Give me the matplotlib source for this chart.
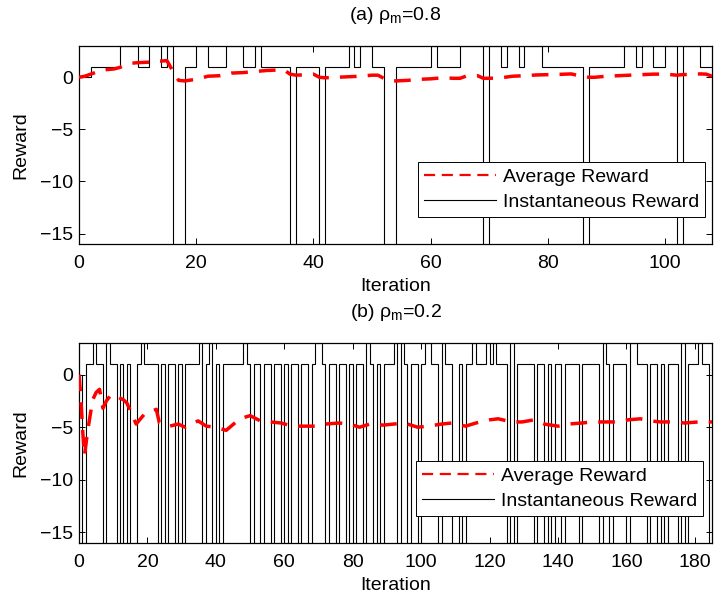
import matplotlib
matplotlib.use("Agg")
import matplotlib.pyplot as plt
from matplotlib.lines import Line2D
import numpy as np

plt.rcParams['font.family'] = ['Liberation Sans', 'DejaVu Sans']
plt.rcParams['mathtext.fontset'] = 'custom'
plt.rcParams['mathtext.rm'] = 'Liberation Sans'
plt.rcParams['mathtext.it'] = 'Liberation Sans'

# ---------------- Panel (a): rho_m = 0.8 ----------------
a_title = r"(a) $\mathrm{\rho_m}$=0.8"
a_steps = [0, 2, 7, 10, 12, 14, 15, 16, 18, 20, 22, 25, 28, 30, 31, 36, 37, 41, 42, 46,
           47, 48, 50, 52, 54, 60, 61, 65, 69, 70, 72, 73, 75, 76, 79, 86, 87, 93, 95,
           96, 98, 100, 102, 103, 106, 108]
a_inst = [0, 1, 3, 1, 3, 1, 3, -20, 1, 3, 1, 3, 1, 3, 1, -20, 1, -20, 1, 3,
          1, 3, 1, -20, 1, 3, 1, 3, -20, 3, 1, 3, 1, 3, 1, -20, 1, 3, 1,
          3, 1, 3, -20, 3, 1]
a_avg_x = [0, 1, 2, 4, 6, 7, 8, 9, 10, 12, 13, 14, 15, 16, 17, 18, 20, 22, 24, 26, 28, 30,
           32, 34, 35, 36, 37, 39, 40, 41, 42, 44, 46, 48, 50, 51, 52, 53, 54, 56, 58, 60,
           62, 64, 65, 66, 68, 69, 70, 72, 74, 76, 78, 80, 82, 84, 86, 87, 88, 90, 92, 94,
           96, 98, 100, 102, 103, 104, 106, 107, 108]
a_avg_y = [0.0, 0.1, 0.3, 0.7, 0.8, 0.95, 1.2, 1.35, 1.4, 1.45, 1.55, 1.55, 1.6, 0.6, -0.3,
           -0.35, -0.2, 0.1, 0.15, 0.4, 0.45, 0.55, 0.65, 0.7, 0.7, 0.3, 0.2, 0.25, 0.3, 0.0,
           -0.05, 0.0, 0.05, 0.1, 0.2, 0.2, -0.1, -0.35, -0.35, -0.3, -0.2, -0.15, -0.05, -0.1,
           -0.1, 0.1, 0.15, -0.1, -0.1, -0.05, 0.1, 0.15, 0.22, 0.25, 0.28, 0.32, 0.05, 0.0,
           0.0, 0.1, 0.15, 0.2, 0.25, 0.3, 0.3, 0.2, 0.25, 0.28, 0.32, 0.3, 0.1]

# ---------------- Panel (b): rho_m = 0.2 ----------------
b_title = r"(b) $\mathrm{\rho_m}$=0.2"
# one instantaneous reward per iteration (iterations 0..184)
b_inst = [0, -20, 1, 1, 3, 1, 1, -20, 3, 1,
          1, -20, 1, -20, 1, -20, -20, 1, 3, 1,
          1, 1, 1, -20, 1, -20, 1, 1, -20, 1,
          -20, 1, 1, 1, 1, 3, -20, 1, 3, -20,
          1, -20, 1, 1, 1, 1, 1, 1, 3, 1,
          -20, 1, 1, -20, 1, 1, -20, 1, 1, -20,
          1, -20, 1, 1, -20, 1, 1, -20, 1, 3,
          3, 1, -20, 1, 1, -20, 1, 1, -20, 1,
          -20, 1, 1, -20, 3, 1, -20, 1, -20, 1,
          1, 1, 3, -20, 3, 1, -20, 1, 1, -20,
          1, 3, 3, 1, 1, -20, 3, 1, 1, -20,
          -20, 1, -20, 1, 1, 3, 1, 1, 1, 3,
          1, 3, 1, 1, 1, -20, 3, -20, 1, 1,
          1, 1, 1, -20, 1, 1, -20, 1, -20, 1,
          1, -20, 1, 1, 1, 1, -20, 1, 1, 1,
          1, 1, -20, 3, 1, -20, 1, 1, 1, 1,
          -20, 3, 3, 1, 1, 1, -20, 1, 1, -20,
          1, -20, 1, 1, 1, -20, 3, -20, 1, 1,
          1, 3, 1, 1, -20]
b_avg_x = [0, 0.5, 1, 1.6, 2.6, 4, 5, 6, 7, 8, 9.4, 10.5, 13, 14, 16.7, 19, 22.6, 23.5, 26.5,
           29, 31, 34.8, 37.2, 40, 43, 47, 50, 53, 56, 59, 62.5, 66, 69, 72, 76, 79, 82, 85,
           89, 92, 95, 99, 102, 106, 109, 113, 116, 120, 122.5, 126.5, 129.5, 133, 136, 140,
           143, 147, 150, 154, 157, 160.5, 164, 167, 170, 174, 177, 181, 185]
b_avg_y = [0, -2, -5, -7.7, -5.2, -2.4, -1.7, -1.4, -3.2, -2.5, -1.9, -2.0, -2.4, -2.7, -4.7,
           -3.8, -3.3, -4.6, -4.9, -4.7, -5.0, -4.4, -4.9, -5.0, -5.3, -4.2, -3.9, -4.4, -4.5,
           -4.6, -4.9, -4.9, -4.9, -4.7, -4.6, -4.7, -5.0, -4.7, -4.8, -4.7, -4.6, -5.0, -4.9,
           -4.7, -4.6, -4.9, -4.6, -4.3, -4.2, -4.5, -4.5, -4.3, -4.7, -4.9, -4.7, -4.6, -4.5,
           -4.5, -4.5, -4.3, -4.2, -4.4, -4.5, -4.5, -4.6, -4.5, -4.5]

y_ticks = [0, -5, -10, -15]
a_xticks = [0, 20, 40, 60, 80, 100]
b_xticks = [0, 20, 40, 60, 80, 100, 120, 140, 160, 180]

FS = 14
fig = plt.figure(figsize=(7.17, 5.93), dpi=100)
axA = fig.add_axes([79/717, 1-244/593, 633/717, 198/593])
axB = fig.add_axes([79/717, 1-543/593, 633/717, 200/593])

def draw(ax, steps, inst, ax_x, ax_y, xmax, xticks, title, leg_anchor):
    ax.stairs(inst, steps, baseline=None, color='black', linewidth=0.8, zorder=2)
    ax.plot(ax_x, ax_y, color='red', linewidth=2.5, dashes=(4.8, 3.2), zorder=3)
    ax.set_xlim(0, xmax)
    ax.set_ylim(-16, 3)
    ax.set_yticks(y_ticks)
    ax.set_xticks(xticks)
    ax.tick_params(direction='in', top=True, right=True, labelsize=FS, length=4, width=0.7)
    ax.tick_params(axis='x', pad=8)
    ax.tick_params(axis='y', pad=4)
    for s in ax.spines.values():
        s.set_linewidth(0.9)
    ax.set_xlabel('Iteration', fontsize=FS, labelpad=4)
    ax.set_ylabel('Reward', fontsize=FS, labelpad=8)
    ax.set_title(title, fontsize=FS, pad=19)
    h_avg = Line2D([], [], color='red', linewidth=1.6, dashes=(5, 3))
    h_ins = Line2D([], [], color='black', linewidth=0.8)
    leg = ax.legend([h_avg, h_ins], ['Average Reward', 'Instantaneous Reward'],
                    loc='lower right', bbox_to_anchor=leg_anchor, borderaxespad=0,
                    fontsize=FS, handlelength=3.7, fancybox=False, framealpha=1,
                    edgecolor='black', borderpad=0.3, labelspacing=0.4,
                    handletextpad=0.35)
    leg.get_frame().set_linewidth(0.7)

draw(axA, a_steps, a_inst, a_avg_x, a_avg_y, 108, a_xticks, a_title, (0.989, 0.136))
b_steps = list(range(len(b_inst) + 1))
draw(axB, b_steps, b_inst, b_avg_x, b_avg_y, 185, b_xticks, b_title, (0.986, 0.135))

fig.savefig('out.png', dpi=100)
